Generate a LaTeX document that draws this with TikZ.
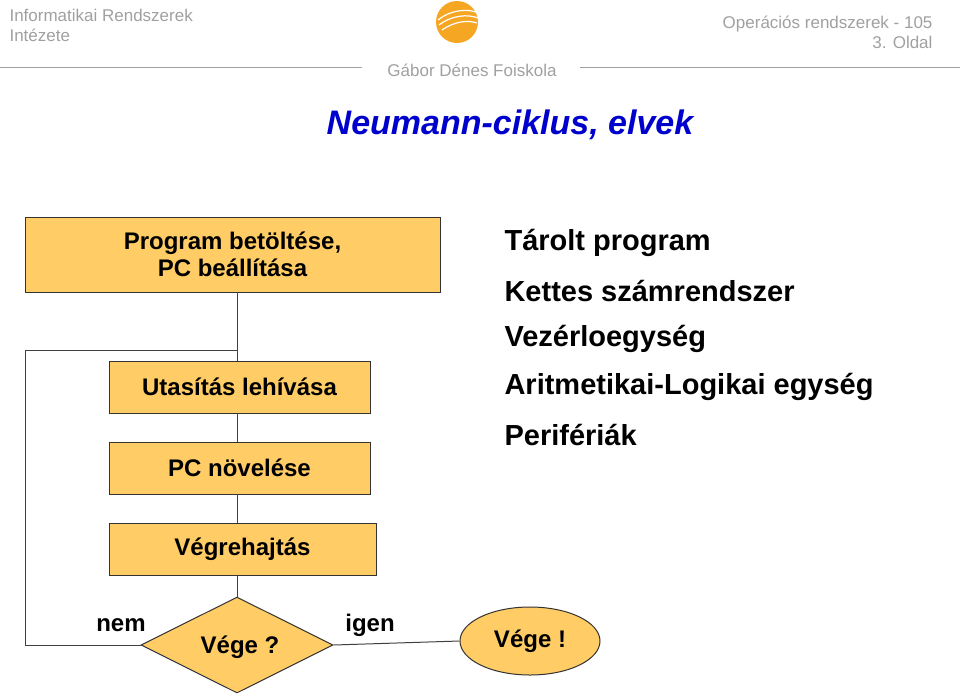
\documentclass[tikz,border=0pt]{standalone}
\usepackage{fontspec}
\setmainfont{Liberation Sans}
\usetikzlibrary{shapes.geometric}
\definecolor{boxfill}{HTML}{FFCC66}
\definecolor{hdr}{HTML}{A0A0A0}
\definecolor{ttl}{HTML}{0000CC}
\definecolor{logo}{HTML}{F5A623}
\begin{document}
\begin{tikzpicture}[x=1pt,y=-1pt,
  box/.style={draw=black!80,fill=boxfill,line width=1pt,inner sep=0pt,font=\fontsize{24}{27}\selectfont\bfseries,align=center},
  ln/.style={draw=black!75,line width=1pt},
  lbl/.style={font=\fontsize{24}{27}\selectfont\bfseries},
  lst/.style={font=\fontsize{29}{32}\selectfont\bfseries,anchor=west},
  hd/.style={font=\fontsize{17}{20}\selectfont,text=hdr}]
\useasboundingbox (0,0) rectangle (960,694);
% header
\node[hd,anchor=north west,align=left] (h1) at (6,6) {Informatikai Rendszerek\\Intézete};
\node[hd,anchor=north east,align=right] (h2) at (936,12) {Operációs rendszerek - 105\\3. Oldal};
\node[hd] (h3) at (472,70) {Gábor Dénes Foiskola};
\draw[hdr,line width=0.8pt] (0,67) -- (362,67) (580,67) -- (960,67);
\fill[logo] (457,22) circle (21);
\draw[white,line width=1.2pt] (438,20) .. controls (450,10) and (468,8) .. (478,13)
  (439,25) .. controls (452,15) and (468,14) .. (478,18)
  (442,30) .. controls (455,21) and (468,20) .. (477,23);
\node[font=\fontsize{34}{38}\selectfont\bfseries\itshape,text=ttl] (t) at (510,125) {Neumann-ciklus, elvek};
% flowchart
\node[box,minimum width=415,minimum height=75] (b1) at (232.5,254.5) {Program betöltése,\\PC beállítása};
\node[box,minimum width=261,minimum height=52] (b2) at (239.5,387) {Utasítás lehívása};
\node[box,minimum width=261,minimum height=52] (b3) at (239.5,468) {PC növelése};
\node[box,minimum width=267,minimum height=52] (b4) at (242.5,549) {Végrehajtás};
\node[draw=black!80,fill=boxfill,line width=1pt,diamond,aspect=2,minimum width=192,minimum height=96,inner sep=0pt] (d) at (237,645) {};
\node[lbl] (dt) at (240,647) {Vége ?};
\node[draw=black!80,fill=boxfill,line width=1pt,ellipse,minimum width=140,minimum height=68,font=\fontsize{24}{27}\selectfont\bfseries] (e) at (530,641) {Vége !};
\coordinate (j) at (237,350);
\coordinate (c1) at (25,350);
\coordinate (c2) at (25,645);
\draw[ln] (237,292) -- (237,361);
\draw[ln] (237,413) -- (237,442);
\draw[ln] (237,494) -- (237,523);
\draw[ln] (237,575) -- (d.north);
\draw[ln] (d.west) -- (c2) -- (c1) -- (j);
\draw[ln] (d.east) -- (e.west);
\node[lbl] (nem) at (121,625) {nem};
\node[lbl] (igen) at (370,625) {igen};
% list
\node[lst] (l1) at (501,243) {Tárolt program};
\node[lst] (l2) at (501,291) {Kettes számrendszer};
\node[lst] (l3) at (501,339) {Vezérloegység};
\node[lst] (l4) at (501,387) {Aritmetikai-Logikai egység};
\node[lst] (l5) at (501,435) {Perifériák};
\end{tikzpicture}
\end{document}
